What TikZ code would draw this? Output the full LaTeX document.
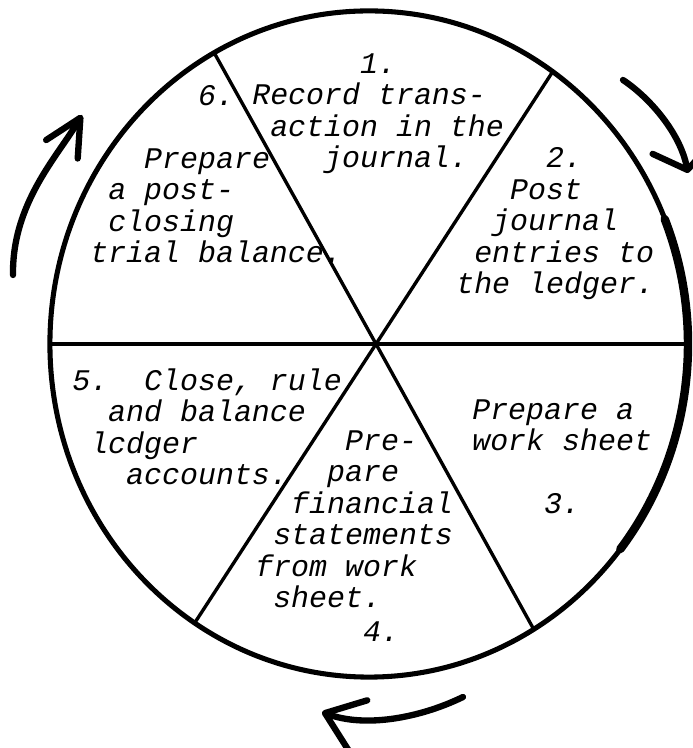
\documentclass[tikz,border=0pt]{standalone}
\usepackage{fontspec}
\setmonofont{Liberation Mono}
\usetikzlibrary{shapes.geometric, arrows.meta, positioning, calc}
\newlength{\chw}
\setlength{\chw}{12.78pt}
\newcommand{\sk}[1]{\hspace*{#1\chw}}

\begin{document}
\begin{tikzpicture}[
    x=0.025cm, y=0.025cm,
    wheel/.style={ellipse, draw, line width=3.6pt, minimum width=15.95cm, minimum height=16.65cm, inner sep=0pt, outer sep=0pt},
    spoke/.style={line width=2.4pt},
    txt/.style={anchor=base west, align=left, inner sep=0pt, font=\ttfamily\itshape\fontsize{21.3pt}{22.4pt}\selectfont\frenchspacing},
    roundarr/.style={line width=4.5pt, line cap=round, line join=round}
]
\useasboundingbox (0,0) rectangle (692,748);

% the wheel and its six spokes
\node[wheel] (wheel) at (369,404) {};
\draw[line width=6pt, line cap=round] (wheel.center) ++(-38:319 and 333) arc[start angle=-38, end angle=22, x radius=319, y radius=333];
\coordinate (hub) at (376,404);
\foreach \a in {0,56,118,180,238,300}
    \draw[spoke] (hub) -- (wheel.\a);

% the six steps (placed by the baseline of their last line)
\node[txt] (s1) at (252,580) {\sk{6}1.\\Record trans-\\\sk{1}action in the\\\sk{4}journal.};
\node[txt] (s6) at (90,485) {\sk{6}6.\\\mbox{}\\\sk{3}Prepare\\\sk{1}a post-\\\sk{1}closing\\trial balance.};
\node[txt] (s2) at (456,454) {\sk{5}2.\\\sk{3}Post\\\sk{2}journal\\\sk{1}entries to\\the ledger.};
\node[txt] (s3) at (472,234) {Prepare a\\work sheet\\\mbox{}\\\sk{4}3.};
\node[txt] (s4) at (255,106) {\sk{5}Pre-\\\sk{4}pare\\\sk{2}financial\\\sk{1}statements\\from work\\\sk{1}sheet.\\[2pt]\sk{6}4.};
\node[txt] (s5) at (72,263) {5.\ \ Close, rule\\\sk{2}and balance\\\sk{1}lcdger\\\sk{3}accounts.};

% arrows round the wheel
\coordinate (l0) at (13,473);
\coordinate (l1) at (82,633);
\coordinate (r0) at (623,668);
\coordinate (r1) at (688,575);
\coordinate (b0) at (463,51);
\coordinate (b1) at (322,36);
\draw[roundarr, -{Straight Barb[round, length=26pt, width=26pt]}] (l0) .. controls (12,545) and (58,592) .. (l1);
\draw[roundarr, -{Straight Barb[round, length=16pt, width=44pt]}] (r0) .. controls (650,650) and (680,615) .. (r1);
\draw[roundarr, -{Straight Barb[round, length=25pt, width=38pt]}] (b0) .. controls (420,30) and (365,20) .. (b1);

\end{tikzpicture}
\end{document}
